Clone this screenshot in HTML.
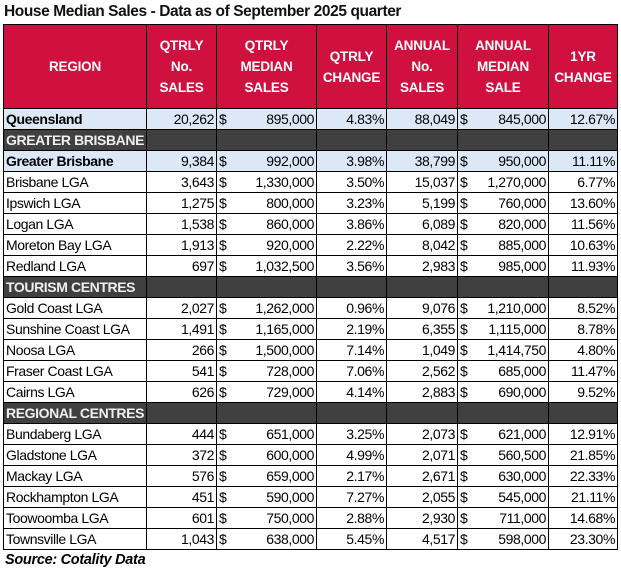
<!DOCTYPE html>
<html><head><style>
body{margin:0;background:#fff;width:621px;height:575px;overflow:hidden;font-family:"Liberation Sans",Arial,sans-serif;}
.title{position:absolute;left:4px;top:3px;font-size:15.5px;font-weight:bold;color:#111;letter-spacing:-0.4px;}
table{position:absolute;left:3px;top:24px;width:614px;border-collapse:collapse;table-layout:fixed;font-size:14px;color:#000;}
td{border:1px solid #000;height:20px;padding:0 2px;white-space:nowrap;overflow:hidden;letter-spacing:-0.4px;}
th{border:1px solid #000;background:#d01140;color:#fff;font-size:13.5px;font-weight:bold;height:83px;line-height:21px;padding:0;letter-spacing:-0.2px;}
td.n{text-align:right;}
tr.hl td{background:#dce8f5;}
tr.hl td:first-child{font-weight:bold;}
tr.sec td{background:#404040;color:#eee;font-weight:bold;}
.d{display:flex;justify-content:space-between;}
.src{position:absolute;left:5px;top:552px;font-size:14.5px;font-weight:bold;font-style:italic;letter-spacing:-0.3px;}
</style></head><body>
<div class="title">House Median Sales - Data as of September 2025 quarter</div>
<table>
<colgroup><col style="width:143px"><col style="width:70px"><col style="width:100px"><col style="width:70px"><col style="width:71px"><col style="width:91px"><col style="width:69px"></colgroup>
<tr><th>REGION</th><th>QTRLY<br>No.<br>SALES</th><th>QTRLY<br>MEDIAN<br>SALES</th><th>QTRLY<br>CHANGE</th><th>ANNUAL<br>No.<br>SALES</th><th>ANNUAL<br>MEDIAN<br>SALE</th><th>1YR<br>CHANGE</th></tr>
<tr class="hl"><td>Queensland</td><td class="n">20,262</td><td><div class="d"><span>$</span><span>895,000</span></div></td><td class="n">4.83%</td><td class="n">88,049</td><td><div class="d"><span>$</span><span>845,000</span></div></td><td class="n">12.67%</td></tr>
<tr class="sec"><td>GREATER BRISBANE</td><td></td><td></td><td></td><td></td><td></td><td></td></tr>
<tr class="hl"><td>Greater Brisbane</td><td class="n">9,384</td><td><div class="d"><span>$</span><span>992,000</span></div></td><td class="n">3.98%</td><td class="n">38,799</td><td><div class="d"><span>$</span><span>950,000</span></div></td><td class="n">11.11%</td></tr>
<tr><td>Brisbane LGA</td><td class="n">3,643</td><td><div class="d"><span>$</span><span>1,330,000</span></div></td><td class="n">3.50%</td><td class="n">15,037</td><td><div class="d"><span>$</span><span>1,270,000</span></div></td><td class="n">6.77%</td></tr>
<tr><td>Ipswich LGA</td><td class="n">1,275</td><td><div class="d"><span>$</span><span>800,000</span></div></td><td class="n">3.23%</td><td class="n">5,199</td><td><div class="d"><span>$</span><span>760,000</span></div></td><td class="n">13.60%</td></tr>
<tr><td>Logan LGA</td><td class="n">1,538</td><td><div class="d"><span>$</span><span>860,000</span></div></td><td class="n">3.86%</td><td class="n">6,089</td><td><div class="d"><span>$</span><span>820,000</span></div></td><td class="n">11.56%</td></tr>
<tr><td>Moreton Bay LGA</td><td class="n">1,913</td><td><div class="d"><span>$</span><span>920,000</span></div></td><td class="n">2.22%</td><td class="n">8,042</td><td><div class="d"><span>$</span><span>885,000</span></div></td><td class="n">10.63%</td></tr>
<tr><td>Redland LGA</td><td class="n">697</td><td><div class="d"><span>$</span><span>1,032,500</span></div></td><td class="n">3.56%</td><td class="n">2,983</td><td><div class="d"><span>$</span><span>985,000</span></div></td><td class="n">11.93%</td></tr>
<tr class="sec"><td>TOURISM CENTRES</td><td></td><td></td><td></td><td></td><td></td><td></td></tr>
<tr><td>Gold Coast LGA</td><td class="n">2,027</td><td><div class="d"><span>$</span><span>1,262,000</span></div></td><td class="n">0.96%</td><td class="n">9,076</td><td><div class="d"><span>$</span><span>1,210,000</span></div></td><td class="n">8.52%</td></tr>
<tr><td>Sunshine Coast LGA</td><td class="n">1,491</td><td><div class="d"><span>$</span><span>1,165,000</span></div></td><td class="n">2.19%</td><td class="n">6,355</td><td><div class="d"><span>$</span><span>1,115,000</span></div></td><td class="n">8.78%</td></tr>
<tr><td>Noosa LGA</td><td class="n">266</td><td><div class="d"><span>$</span><span>1,500,000</span></div></td><td class="n">7.14%</td><td class="n">1,049</td><td><div class="d"><span>$</span><span>1,414,750</span></div></td><td class="n">4.80%</td></tr>
<tr><td>Fraser Coast LGA</td><td class="n">541</td><td><div class="d"><span>$</span><span>728,000</span></div></td><td class="n">7.06%</td><td class="n">2,562</td><td><div class="d"><span>$</span><span>685,000</span></div></td><td class="n">11.47%</td></tr>
<tr><td>Cairns LGA</td><td class="n">626</td><td><div class="d"><span>$</span><span>729,000</span></div></td><td class="n">4.14%</td><td class="n">2,883</td><td><div class="d"><span>$</span><span>690,000</span></div></td><td class="n">9.52%</td></tr>
<tr class="sec"><td>REGIONAL CENTRES</td><td></td><td></td><td></td><td></td><td></td><td></td></tr>
<tr><td>Bundaberg LGA</td><td class="n">444</td><td><div class="d"><span>$</span><span>651,000</span></div></td><td class="n">3.25%</td><td class="n">2,073</td><td><div class="d"><span>$</span><span>621,000</span></div></td><td class="n">12.91%</td></tr>
<tr><td>Gladstone LGA</td><td class="n">372</td><td><div class="d"><span>$</span><span>600,000</span></div></td><td class="n">4.99%</td><td class="n">2,071</td><td><div class="d"><span>$</span><span>560,500</span></div></td><td class="n">21.85%</td></tr>
<tr><td>Mackay LGA</td><td class="n">576</td><td><div class="d"><span>$</span><span>659,000</span></div></td><td class="n">2.17%</td><td class="n">2,671</td><td><div class="d"><span>$</span><span>630,000</span></div></td><td class="n">22.33%</td></tr>
<tr><td>Rockhampton LGA</td><td class="n">451</td><td><div class="d"><span>$</span><span>590,000</span></div></td><td class="n">7.27%</td><td class="n">2,055</td><td><div class="d"><span>$</span><span>545,000</span></div></td><td class="n">21.11%</td></tr>
<tr><td>Toowoomba LGA</td><td class="n">601</td><td><div class="d"><span>$</span><span>750,000</span></div></td><td class="n">2.88%</td><td class="n">2,930</td><td><div class="d"><span>$</span><span>711,000</span></div></td><td class="n">14.68%</td></tr>
<tr><td>Townsville LGA</td><td class="n">1,043</td><td><div class="d"><span>$</span><span>638,000</span></div></td><td class="n">5.45%</td><td class="n">4,517</td><td><div class="d"><span>$</span><span>598,000</span></div></td><td class="n">23.30%</td></tr>
</table>
<div class="src">Source: Cotality Data</div>
</body></html>
